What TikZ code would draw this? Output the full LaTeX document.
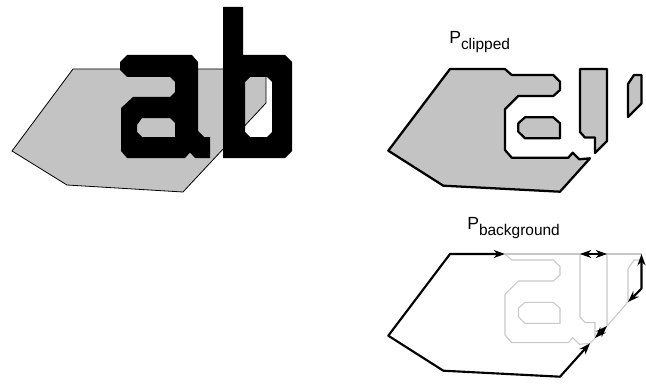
\documentclass[tikz,border=0pt]{standalone}
\usepackage{fontspec}
\setmainfont{Liberation Sans}
\usepackage{xcolor}
\definecolor{ink}{HTML}{000000}
\definecolor{shade}{HTML}{C3C3C3}
\definecolor{ghost}{HTML}{C8C8C8}
\usepackage{tikz}
\usetikzlibrary{arrows.meta}
\tikzset{
  >={Stealth[length=8.5pt,width=6pt]},
  region/.style={fill=shade,draw=ink,line width=0.6pt},
  glyph/.style={fill=ink,even odd rule},
  piece/.style={fill=shade,draw=ink,line width=1.7pt,line join=round},
  ghostline/.style={draw=ghost,line width=0.8pt},
  trace/.style={<->,draw=ink,line width=1.6pt,line join=round},
  lbl/.style={inner sep=0pt,anchor=base west,font=\fontsize{13.2}{14}\selectfont},
}
\newcommand{\sublbl}[1]{\raisebox{-4.3pt}{\fontsize{11.6}{12}\selectfont #1}}

\begin{document}
\begin{tikzpicture}[x=0.75pt,y=-0.75pt]
  \useasboundingbox (0,0) rectangle (646,385);
  % polygon and text
  \path[region] (73,69) -- (266,69) -- (266,103) -- (183,192) -- (67,185) -- (12,151) -- cycle;
  \fill[glyph] (120,62) -- (127,55) -- (192,55) -- (198,62) -- (198,131) -- (204,137) -- (210,137)
    -- (210,158) -- (195,158) -- (190,152.5) -- (185,158) -- (127,158) -- (121,151) -- (121,108)
    -- (133,97) -- (170,97) -- (175,92) -- (175,82) -- (170,77) -- (127,77) -- (120,70) -- cycle
    (137,125) -- (142,118) -- (170,118) -- (175,123) -- (175,137) -- (142,137) -- (137,132) -- cycle;
  \fill[glyph] (223,7) -- (243,7) -- (243,55) -- (285,55) -- (292,62) -- (292,151) -- (285,158)
    -- (223,158) -- cycle
    (245,82) -- (250,77) -- (267,77) -- (272,82) -- (272,132) -- (267,137) -- (250,137) -- (245,132) -- cycle;
  % clipped polygon
  \node[lbl] (cliplabel) at (449,43.5) {P\sublbl{clipped}};
  \path[piece] (450,69) -- (505,69) -- (511.7,75) -- (553.3,75) -- (560,81.7) -- (560,90) -- (553.3,96)
    -- (518.3,96) -- (505,109.3) -- (505,150) -- (511.7,157.7) -- (568.3,157.7) -- (572.7,152.7)
    -- (579.3,159.3) -- (590,158.3) -- (560,191.7) -- (443.3,185.7) -- (388.3,150.7) -- cycle;
  \path[piece] (518.3,123.3) -- (525,117.3) -- (553.3,117.3) -- (560,123.3) -- (560,138.3) -- (525,138.3)
    -- (518.3,131.7) -- cycle;
  \path[piece] (580,69) -- (607,69) -- (607,141) -- (595,153) -- (595,137.5) -- (585,137.5) -- (580,132) -- cycle;
  \path[piece] (628,84) -- (634,75) -- (641.5,75) -- (641.5,103.5) -- (628,117) -- cycle;
  % background boundary
  \node[lbl] (bglabel) at (467,229.3) {P\sublbl{background}};
  \begin{scope}[yshift=-185*0.75pt]
    \draw[ghostline] (505,69) -- (641.5,69);
    \draw[ghostline] (505,69) -- (511.7,75) -- (553.3,75) -- (560,81.7) -- (560,90) -- (553.3,96)
      -- (518.3,96) -- (505,109.3) -- (505,150) -- (511.7,157.7) -- (568.3,157.7) -- (572.7,152.7)
      -- (579.3,159.3) -- (590,158.3) -- (595,153);
    \draw[ghostline] (518.3,123.3) -- (525,117.3) -- (553.3,117.3) -- (560,123.3) -- (560,138.3) -- (525,138.3)
      -- (518.3,131.7) -- cycle;
    \draw[ghostline] (580,69) -- (580,132) -- (585,137.5) -- (595,137.5) -- (595,153);
    \draw[ghostline] (607,69) -- (607,141) -- (628,117);
    \draw[ghostline] (641.5,75) -- (634,75) -- (628,84) -- (628,117);
    \draw[trace] (505,69) -- (450,69) -- (388.3,150.7) -- (443.3,185.7) -- (560,191.7) -- (590,158.3);
    \draw[trace] (580,69) -- (607,69);
    \draw[trace] (641.5,69) -- (641.5,103.5) -- (628,117);
    \draw[trace] (607,141) -- (595,153);
  \end{scope}
\end{tikzpicture}
\end{document}
